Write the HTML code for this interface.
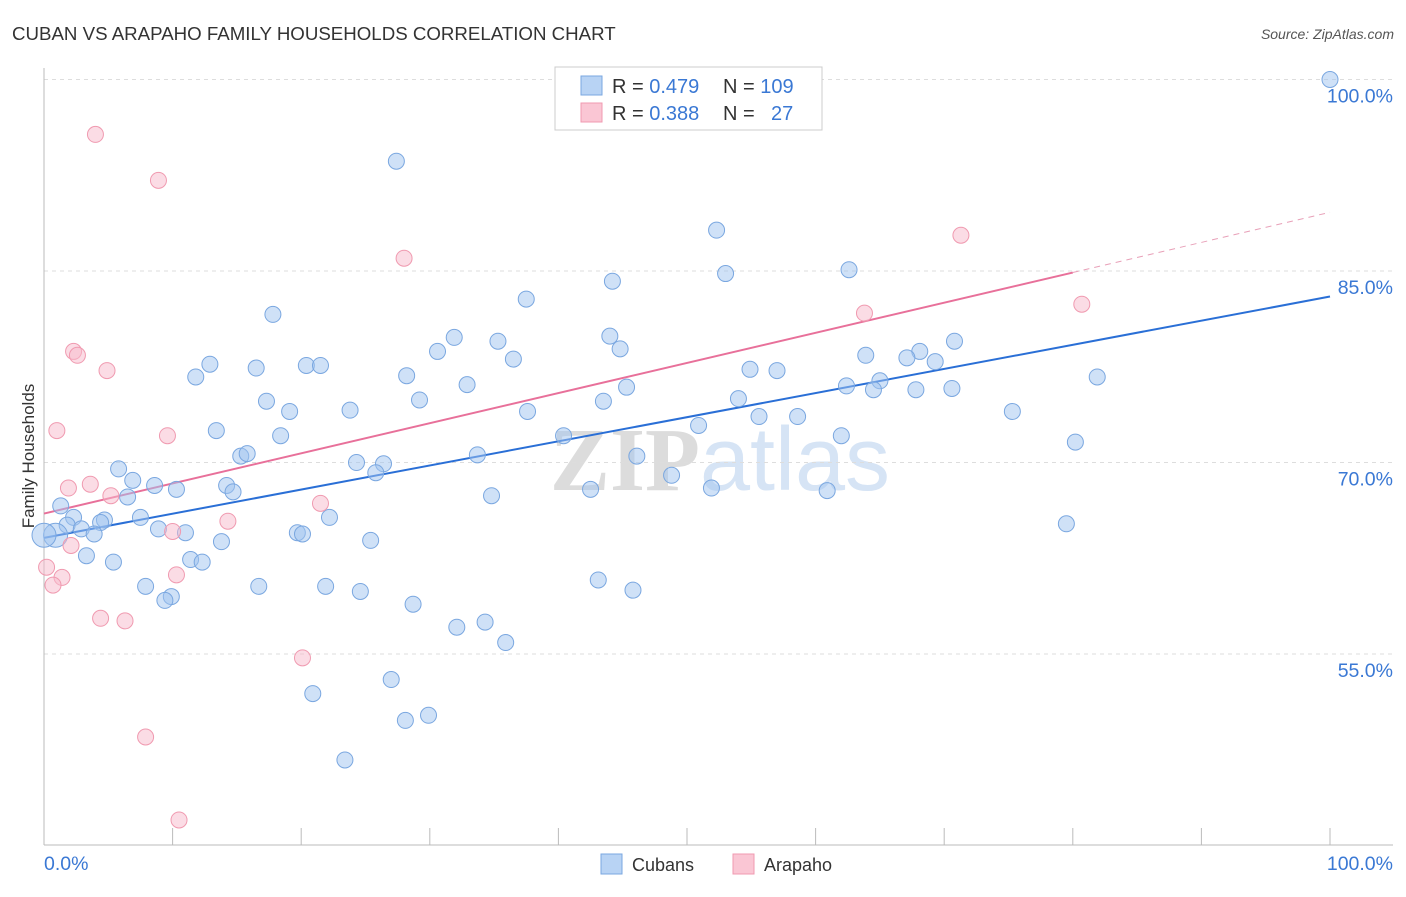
<!DOCTYPE html>
<html><head><meta charset="utf-8"><style>
body{margin:0;background:#fff;font-family:"Liberation Sans",sans-serif}
svg text{font-family:"Liberation Sans",sans-serif}
</style></head><body>
<svg id="chart" width="1406" height="892" viewBox="0 0 1406 892">
<text x="12" y="40" font-size="18.7" fill="#333">CUBAN VS ARAPAHO FAMILY HOUSEHOLDS CORRELATION CHART</text>
<text x="1394" y="39" font-size="14" fill="#555" font-style="italic" text-anchor="end">Source: ZipAtlas.com</text>
<text x="34" y="456" font-size="17" fill="#333" text-anchor="middle" transform="rotate(-90 34 456)">Family Households</text>
<text x="720" y="490" font-size="90" fill="#e4e4e4" text-anchor="middle" font-weight="bold"><tspan font-family="Liberation Serif" fill="#dcdcdc">ZIP</tspan><tspan fill="#d6e4f5" font-weight="normal">atlas</tspan></text>
<g id="grid"></g><g id="axes"></g><g id="trends"></g><g id="points"></g>
<g>
<rect x="555" y="67" width="267" height="63" fill="#fff" stroke="#ccc"/>
<rect x="581" y="76" width="21" height="19" fill="#b8d3f4" stroke="#7aa7e0"/>
<rect x="581" y="103" width="21" height="19" fill="#fac6d4" stroke="#f09ab0"/>
<text x="612" y="93" font-size="20" fill="#333">R = <tspan fill="#3a78d4">0.479</tspan><tspan x="723">N = </tspan><tspan fill="#3a78d4">109</tspan></text>
<text x="612" y="120" font-size="20" fill="#333">R = <tspan fill="#3a78d4">0.388</tspan><tspan x="723">N = </tspan><tspan fill="#3a78d4" x="771">27</tspan></text>
</g>
<g>
<rect x="601" y="854" width="21" height="20" fill="#b8d3f4" stroke="#7aa7e0"/>
<text x="632" y="871" font-size="18" fill="#333">Cubans</text>
<rect x="733" y="854" width="21" height="20" fill="#fac6d4" stroke="#f09ab0"/>
<text x="764" y="871" font-size="18" fill="#333">Arapaho</text>
</g>
</svg>
<script>
const yTicks=[55,70,85,100];
const yTickLabels=["55.0%","70.0%","85.0%","100.0%"];
const xLabels=["0.0%","100.0%"];
const cubanX=[100,27.4,52.3,53.0,62.6,44.2,37.5,17.8,31.9,44.0,35.3,70.8,44.8,30.6,63.9,68.1,36.5,12.9,20.4,21.5,67.1,69.3,16.5,11.8,28.2,54.9,57.0,81.9,65.0,32.9,45.3,62.4,64.5,67.8,70.6,17.3,29.2,43.5,54.0,19.1,23.8,37.6,55.6,58.6,75.3,50.9,13.4,18.4,40.4,62.0,80.2,46.1,15.3,15.8,33.7,24.3,26.4,25.8,5.8,6.9,48.8,8.6,14.2,10.3,14.7,6.5,34.8,42.5,51.9,60.9,1.3,2.3,7.5,4.7,22.2,79.5,1.8,4.4,2.9,8.9,11.0,19.7,20.1,3.9,0.9,0,13.8,25.4,3.3,5.4,11.4,12.3,43.1,7.9,16.7,21.9,24.6,45.8,9.9,9.4,28.7,32.1,34.3,35.9,27.0,20.9,28.1,29.9,23.4];
const cubanY=[100,93.6,88.2,84.8,85.1,84.2,82.8,81.6,79.8,79.9,79.5,79.5,78.9,78.7,78.4,78.7,78.1,77.7,77.6,77.6,78.2,77.9,77.4,76.7,76.8,77.3,77.2,76.7,76.4,76.1,75.9,76.0,75.7,75.7,75.8,74.8,74.9,74.8,75.0,74.0,74.1,74.0,73.6,73.6,74.0,72.9,72.5,72.1,72.1,72.1,71.6,70.5,70.5,70.7,70.6,70.0,69.9,69.2,69.5,68.6,69.0,68.2,68.2,67.9,67.7,67.3,67.4,67.9,68.0,67.8,66.6,65.7,65.7,65.5,65.7,65.2,65.1,65.3,64.8,64.8,64.5,64.5,64.4,64.4,64.3,64.3,63.8,63.9,62.7,62.2,62.4,62.2,60.8,60.3,60.3,60.3,59.9,60.0,59.5,59.2,58.9,57.1,57.5,55.9,53.0,51.9,49.8,50.2,46.7];
const arapahoX=[4.0,8.9,28.0,71.3,80.7,63.8,2.3,2.6,4.9,1.0,9.6,3.6,1.9,5.2,21.5,14.3,10.0,2.1,0.2,1.4,0.7,10.3,4.4,6.3,20.1,7.9,10.5];
const arapahoY=[95.7,92.1,86.0,87.8,82.4,81.7,78.7,78.4,77.2,72.5,72.1,68.3,68.0,67.4,66.8,65.4,64.6,63.5,61.8,61.0,60.4,61.2,57.8,57.6,54.7,48.5,42.0];
const cubanTrend=[64.1,83.0];
const arapahoTrend=[66.0,89.6];
const arapahoSolidEnd=80;

const NS="http://www.w3.org/2000/svg";
const X0=44,X1=1330,Y100=79.5,PX=12.767;
const sx=v=>X0+(X1-X0)*v/100;
const sy=v=>Y100+(100-v)*PX;
function mk(tag,attrs,parent){const e=document.createElementNS(NS,tag);for(const k in attrs)e.setAttribute(k,attrs[k]);parent.appendChild(e);return e;}
const grid=document.getElementById('grid'),axes=document.getElementById('axes'),trends=document.getElementById('trends'),pts=document.getElementById('points');
yTicks.forEach((t,i)=>{
 const l=mk('line',{x1:X0,x2:1393,y1:sy(t),y2:sy(t),stroke:'#ddd','stroke-dasharray':'4,4'},grid);
 
 
 const tx=mk('text',{x:1393,y:sy(t)+23,'font-size':19.5,fill:'#3a78d4','text-anchor':'end'},grid);
 tx.textContent=yTickLabels[i];
 
 
});
let a=mk('line',{x1:X0,x2:X0,y1:68,y2:845,stroke:'#bbb'},axes);


a=mk('line',{x1:X0,x2:1393,y1:845,y2:845,stroke:'#bbb'},axes);


for(let i=0;i<=10;i++){const t=mk('line',{x1:sx(i*10),x2:sx(i*10),y1:828,y2:845,stroke:'#bbb'},axes);
 
 }
let xl=mk('text',{x:X0,y:870,'font-size':19.5,fill:'#3a78d4'},axes);xl.textContent=xLabels[0];


xl=mk('text',{x:1393,y:870,'font-size':19.5,fill:'#3a78d4','text-anchor':'end'},axes);xl.textContent=xLabels[1];



cubanX.forEach((x,i)=>{const big=x<1.5&&Math.abs(cubanY[i]-64.3)<0.2;
 const c=mk('circle',{cx:sx(x),cy:sy(cubanY[i]),r:big?12:8,fill:'rgba(160,195,240,0.5)',stroke:'#7aa7e0','stroke-width':1},pts);
 
 });
arapahoX.forEach((x,i)=>{const c=mk('circle',{cx:sx(x),cy:sy(arapahoY[i]),r:8,fill:'rgba(248,185,203,0.5)',stroke:'#f09ab0','stroke-width':1},pts);
 
 });
let t=mk('line',{x1:sx(0),y1:sy(cubanTrend[0]),x2:sx(100),y2:sy(cubanTrend[1]),stroke:'#2a6fd6','stroke-width':2},trends);


const ay=x=>arapahoTrend[0]+(arapahoTrend[1]-arapahoTrend[0])*x/100;
t=mk('line',{x1:sx(0),y1:sy(ay(0)),x2:sx(arapahoSolidEnd),y2:sy(ay(arapahoSolidEnd)),stroke:'#e8709a','stroke-width':2},trends);


t=mk('line',{x1:sx(arapahoSolidEnd),y1:sy(ay(arapahoSolidEnd)),x2:sx(100),y2:sy(ay(100)),stroke:'#e8a0b8','stroke-width':1,'stroke-dasharray':'6,5'},trends);


</script>
</body></html>
